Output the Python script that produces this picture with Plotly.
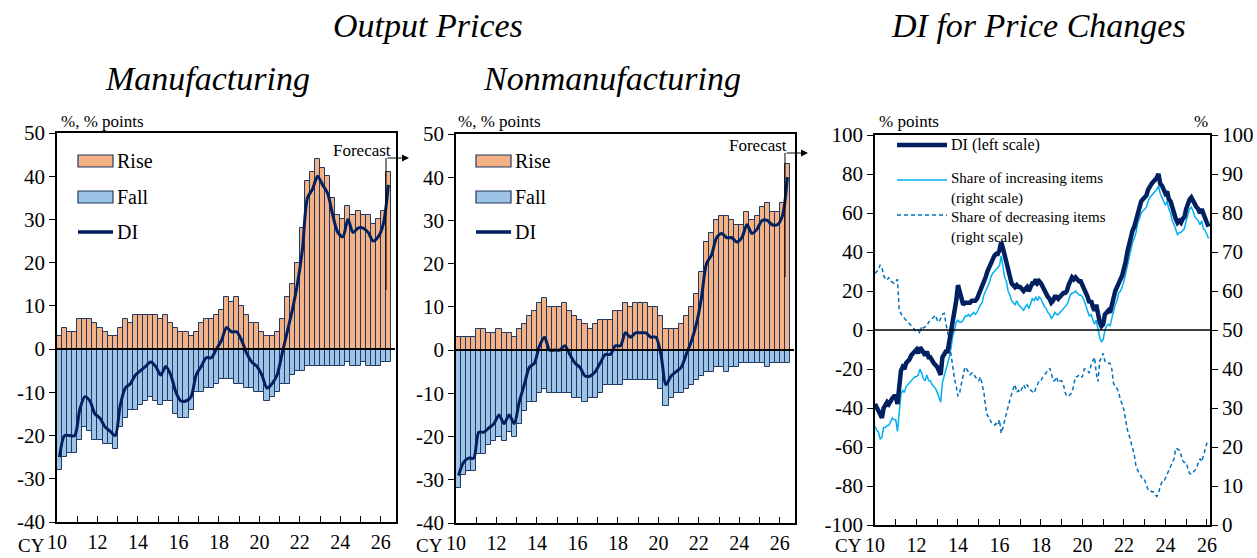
import plotly.graph_objects as go

# ---------------- data ----------------
quarter_start = 2010  # first bar = CY2010 Q1, quarterly bars
mfg_rise = [3, 5, 4, 4, 7, 7, 7, 6, 5, 4,
            3, 3, 5, 7, 6, 8, 8, 8, 8, 8,
            7, 8, 6, 5, 4, 4, 3, 4, 6, 7,
            7, 8, 9, 12, 11, 12, 10, 8, 6, 6,
            4, 3, 3, 4, 7, 12, 15, 20, 28, 39,
            41, 44, 42, 40, 35, 31, 30, 33, 31, 32,
            31, 31, 29, 30, 32, 41]
mfg_fall = [-28, -25, -24, -24, -21, -18, -19, -21, -21, -22,
            -22, -23, -18, -16, -14, -14, -13, -12, -11, -12,
            -13, -12, -12, -15, -16, -16, -14, -10, -10, -9,
            -9, -8, -7, -7, -7, -8, -8, -9, -9, -10,
            -10, -12, -11, -10, -8, -8, -6, -5, -5, -4,
            -4, -4, -4, -4, -4, -4, -4, -3, -4, -4,
            -3, -4, -4, -4, -3, -3]
mfg_di = [-25, -20, -20, -20, -14, -11, -12, -15, -16, -18,
          -19, -20, -13, -9, -8, -6, -5, -4, -3, -4,
          -6, -4, -6, -10, -12, -12, -11, -6, -4, -2,
          -2, 0, 2, 5, 4, 4, 2, -1, -3, -4,
          -6, -9, -8, -6, -1, 4, 9, 15, 23, 35,
          37, 40, 38, 36, 31, 27, 26, 30, 27, 28,
          28, 27, 25, 26, 29, 38]

non_rise = [3, 3, 3, 3, 5, 5, 4, 4, 5, 4,
            4, 3, 5, 6, 8, 9, 11, 12, 10, 10,
            10, 11, 9, 8, 7, 6, 5, 6, 7, 7,
            7, 9, 9, 11, 10, 11, 11, 11, 10, 10,
            8, 5, 5, 5, 6, 8, 10, 13, 18, 25,
            27, 30, 31, 31, 30, 29, 29, 32, 30, 31,
            33, 34, 32, 32, 34, 43]
non_fall = [-32, -29, -28, -28, -24, -24, -22, -21, -20, -21,
            -19, -20, -17, -14, -12, -12, -10, -9, -10, -10,
            -10, -10, -10, -11, -11, -12, -11, -11, -10, -8,
            -8, -8, -8, -7, -7, -7, -7, -7, -7, -7,
            -9, -13, -11, -10, -10, -9, -8, -7, -6, -5,
            -5, -4, -4, -5, -4, -4, -3, -3, -3, -3,
            -3, -4, -3, -3, -3, -3]
non_di = [-29, -26, -25, -25, -19, -19, -18, -17, -15, -17,
          -15, -17, -12, -8, -4, -3, 1, 3, 0, 0,
          0, 1, -1, -3, -4, -6, -6, -5, -3, -1,
          -1, 1, 1, 4, 3, 4, 4, 4, 3, 3,
          -1, -8, -6, -5, -4, -1, 2, 6, 12, 20,
          22, 26, 27, 26, 26, 25, 26, 29, 27, 28,
          30, 30, 29, 29, 31, 40]

# monthly series, Jan 2010 onwards
month_start = 2010
di_month = [-38, -40, -41, -44, -45, -40, -38, -37, -38, -36, -35, -34,
            -34, -38, -26, -21, -19, -20, -17, -16, -15, -13, -12, -11,
            -10, -12, -9, -10, -12, -13, -11, -14, -14, -16, -17, -18,
            -19, -21, -23, -14, -12, -11, -11, -6, -1, 3, 8, 15,
            23, 20, 15, 13, 14, 14, 14, 14, 15, 15, 15, 16,
            18, 20, 22, 25, 27, 30, 32, 34, 37, 38, 39, 39,
            41, 45, 42, 38, 35, 32, 28, 24, 23, 22, 23, 22,
            22, 21, 20, 21, 22, 20, 22, 24, 24, 26, 24, 25,
            24, 22, 20, 19, 17, 16, 14, 15, 17, 17, 16, 17,
            18, 19, 19, 20, 23, 26, 27, 26, 27, 26, 25, 25,
            23, 22, 19, 17, 14, 15, 12, 10, 13, 8, 4, 2,
            3, 8, 9, 10, 9, 13, 17, 20, 22, 25, 26, 28,
            31, 35, 40, 44, 47, 51, 53, 56, 61, 63, 66, 67,
            68, 69, 72, 74, 75, 76, 77, 78, 80, 75, 74, 72,
            70, 71, 67, 66, 62, 60, 57, 55, 56, 55, 57, 58,
            62, 65, 67, 68, 66, 64, 63, 62, 60, 62, 59, 58,
            55, 53]
inc_month = [25.3, 24.3, 23.8, 22, 22.5, 25, 25, 25.5, 25.5, 26.5, 27.5, 27,
             27, 24, 29, 33.5, 34.5, 34, 35.5, 36, 36.5, 37, 37.5, 38,
             38, 38.5, 40, 39, 37.5, 37, 38.5, 37, 37, 36, 35.5, 35,
             34, 32.5, 31.5, 36.5, 38, 40, 41, 43, 45.5, 48.5, 50, 52,
             52.5, 52, 52, 52.5, 53.5, 53.5, 54, 53.5, 54, 54.5, 54, 54.5,
             55.5, 56.5, 57, 59, 60, 61, 62, 63.5, 64.5, 65, 65.5, 66,
             66.5, 69, 66, 63.5, 62.5, 60, 59, 57.5, 57, 56.5, 57.5, 56.5,
             56, 55.5, 55, 56, 56.5, 55.5, 57, 58, 57.5, 58.5, 57.5, 58.5,
             58, 57, 56, 55.5, 54.5, 54, 53, 53.5, 54.5, 54, 54, 54.5,
             55, 55.5, 56, 56.5, 57.5, 59, 59.5, 59.5, 60, 59.5, 59, 59,
             58.5, 57.5, 56, 55, 53.5, 54, 52.5, 51.5, 52.5, 50, 48, 47,
             47.5, 50, 51, 51.5, 51, 53, 55, 56.5, 57.5, 59.5, 60, 61,
             62.5, 64.5, 67, 69, 70.5, 72.5, 73.5, 75, 77.5, 78.5, 80, 80.5,
             81, 81.5, 83, 84, 84.5, 85, 85.5, 86, 87, 85, 84, 83,
             82, 83, 81, 80, 78, 77, 75.5, 74.5, 75, 75, 75.5, 76,
             78, 79.5, 81, 81.5, 80.5, 79, 78.5, 78, 77, 78, 76, 75.5,
             74.5, 73.5]
dec_month = [64.5, 65, 65.5, 66.7, 66, 64, 63, 62.8, 63.5, 62.6, 62.4, 62,
             62.5, 63, 55, 54, 53.4, 53, 52.5, 52, 51.7, 51, 50.5, 50,
             49.6, 50, 49, 51, 50.5, 50.8, 51, 52, 52.5, 53, 53.5, 53.8,
             52.5, 52, 53, 54, 54.3, 52, 50, 47, 43.6, 40, 37.5, 35.5,
             33, 34, 36.3, 38, 40.5, 40, 39.3, 38.5, 39, 39, 38, 37.5,
             37, 38, 36, 34, 30.3, 28, 27.8, 26.5, 26, 25.6, 26, 25.5,
             27, 23.5, 25, 27, 28.5, 30.3, 32, 33.8, 35, 36, 34, 34.5,
             34, 35, 36, 35, 36, 35, 34.6, 34, 33.8, 35, 36, 37,
             37, 38, 38.5, 39, 39.5, 40.2, 39, 37, 37, 38, 36.5, 37,
             37, 36, 34, 33, 33, 33.5, 34, 36, 38, 38, 38.5, 38,
             38, 40, 40, 39.5, 39, 41, 42, 43, 39, 36.8, 42, 43,
             44, 42, 41.5, 41.5, 41.5, 40, 36.3, 35.5, 35, 34, 32, 31,
             29.5, 27, 24.4, 23, 21.5, 20, 18, 15, 14, 13, 12.5, 11.5,
             11.5, 10, 9, 9, 8.5, 8.5, 8, 7.3, 8, 10, 11, 11,
             12, 13, 14, 15, 16.2, 17, 19.7, 19.5, 19.2, 18, 16.5, 16,
             16, 14.5, 13.2, 13, 13.5, 14, 14.5, 16, 17, 16.2, 18, 19.5,
             21, 21.5]

year_ticks = list(range(10, 27))
year_labels = [str(y) if y % 2 == 0 else "" for y in year_ticks]
bar_ticks = list(range(-40, 51, 10))
di_ticks = list(range(-100, 101, 20))
share_ticks = list(range(0, 101, 10))

# ---------------- positions ----------------
qx = [quarter_start - 2000 + i / 4 + 0.125 for i in range(len(mfg_rise))]
mx = [month_start - 2000 + i / 12 for i in range(len(di_month))]

W, H = 1257, 558
SERIF = "Liberation Serif"
RISE_C = "#f4b183"
FALL_C = "#9dc3e6"
EDGE_C = "#1f3864"
NAVY = "#002060"
LIGHT = "#00b0f0"
MID = "#0070c0"


def fx(p):
    return p / W


def fy(p):
    return 1 - p / H


def lab(v):
    return str(v).replace("\u2212", "-")


fig = go.Figure()

for (rise, fall, di, xa, ya) in [(mfg_rise, mfg_fall, mfg_di, "x", "y"),
                                 (non_rise, non_fall, non_di, "x2", "y2")]:
    fig.add_trace(go.Bar(x=qx, y=rise, width=0.25, name="Rise", xaxis=xa, yaxis=ya,
                         marker=dict(color=RISE_C, line=dict(color=EDGE_C, width=1))))
    fig.add_trace(go.Bar(x=qx, y=fall, width=0.25, name="Fall", xaxis=xa, yaxis=ya,
                         marker=dict(color=FALL_C, line=dict(color=EDGE_C, width=1))))
    fig.add_trace(go.Scatter(x=qx, y=di, mode="lines", name="DI", xaxis=xa, yaxis=ya,
                             line=dict(color=NAVY, width=3, shape="spline", smoothing=0.8)))

fig.add_trace(go.Scatter(x=mx, y=inc_month, mode="lines",
                         name="Share of increasing items (right scale)",
                         xaxis="x3", yaxis="y3", line=dict(color=LIGHT, width=1.5)))
fig.add_trace(go.Scatter(x=mx, y=dec_month, mode="lines",
                         name="Share of decreasing items (right scale)",
                         xaxis="x3", yaxis="y3", line=dict(color=MID, width=1.5, dash="4px,3px")))
fig.add_trace(go.Scatter(x=mx, y=di_month, mode="lines", name="DI (left scale)",
                         xaxis="x3", yaxis="y4", line=dict(color=NAVY, width=4.5)))

tickfont = dict(family=SERIF, size=21, color="black")
xtickfont = dict(family=SERIF, size=20, color="black")
common_x = dict(tickvals=year_ticks, ticktext=year_labels, ticks="inside", ticklen=6,
                tickcolor="black", showline=True, mirror=True, linecolor="black", linewidth=1.5,
                showgrid=False, zeroline=False, tickfont=xtickfont, ticklabelstandoff=1)
common_y = dict(ticks="outside", ticklen=6, tickcolor="black", showline=True, mirror=True,
                linecolor="black", linewidth=1.5, showgrid=False, zeroline=False, tickfont=tickfont)

fig.update_layout(
    width=W, height=H, autosize=False,
    margin=dict(l=0, r=0, t=0, b=0, autoexpand=False),
    paper_bgcolor="white", plot_bgcolor="white",
    barmode="relative", bargap=0, showlegend=False,
    xaxis=dict(domain=[fx(57), fx(396)], range=[10, 26.75], anchor="y", **common_x),
    yaxis=dict(domain=[fy(522), fy(133)], range=[-40, 50], tickvals=bar_ticks,
               ticktext=[lab(v) for v in bar_ticks], anchor="x", **common_y),
    xaxis2=dict(domain=[fx(456), fx(795)], range=[10, 26.75], anchor="y2", **common_x),
    yaxis2=dict(domain=[fy(523), fy(134)], range=[-40, 50], tickvals=bar_ticks,
                ticktext=[lab(v) for v in bar_ticks], anchor="x2", **common_y),
    xaxis3=dict(domain=[fx(875), fx(1210)], range=[10, 26.15], anchor="y3", **common_x),
    yaxis3=dict(domain=[fy(525), fy(135)], range=[0, 100], tickvals=share_ticks,
                ticktext=[lab(v) for v in share_ticks], anchor="x3", side="right", **common_y),
    yaxis4=dict(range=[-100, 100], tickvals=di_ticks, ticktext=[lab(v) for v in di_ticks],
                anchor="x3", overlaying="y3", side="left", **common_y),
)

# zero lines drawn over the bars
fig.add_shape(type="line", xref="x", yref="y", x0=10, x1=26.7, y0=0, y1=0,
              line=dict(color="black", width=2))
fig.add_shape(type="line", xref="x2", yref="y2", x0=10, x1=26.7, y0=0, y1=0,
              line=dict(color="black", width=2))
fig.add_shape(type="line", xref="x3", yref="y4", x0=10, x1=26.15, y0=0, y1=0,
              line=dict(color="black", width=1.3))

# forecast markers
for (vx, top, bot, tip, txt_right, txt_y) in [(386, 158, 290, 409, 393, 150),
                                              (785, 153, 277, 808, 789, 145)]:
    fig.add_shape(type="line", xref="paper", yref="paper", x0=fx(vx), x1=fx(vx),
                  y0=fy(top), y1=fy(bot), line=dict(color="black", width=1))
    fig.add_annotation(xref="paper", yref="paper", x=fx(tip), y=fy(top), ax=-(tip - vx), ay=0,
                       text="", showarrow=True, arrowhead=2, arrowsize=1.4, arrowwidth=1,
                       arrowcolor="black")
    fig.add_annotation(xref="paper", yref="paper", x=fx(txt_right), y=fy(txt_y),
                       xanchor="right", yanchor="middle", text="Forecast", showarrow=False,
                       font=dict(family=SERIF, size=17, color="black"))

# legends for the bar panels (drawn as shapes + text)
leg_font = dict(family=SERIF, size=20, color="black")
for x0 in [78, 476]:
    for (yc, fill, txt) in [(161, RISE_C, "Rise"), (197, FALL_C, "Fall")]:
        fig.add_shape(type="rect", xref="paper", yref="paper", x0=fx(x0), x1=fx(x0 + 35),
                      y0=fy(yc + 6), y1=fy(yc - 6), fillcolor=fill,
                      line=dict(color=EDGE_C, width=1.2))
        fig.add_annotation(xref="paper", yref="paper", x=fx(x0 + 37), y=fy(yc), xanchor="left",
                           yanchor="middle", text=txt, showarrow=False, font=leg_font)
    fig.add_shape(type="line", xref="paper", yref="paper", x0=fx(x0), x1=fx(x0 + 35),
                  y0=fy(232), y1=fy(232), line=dict(color=NAVY, width=3.5))
    fig.add_annotation(xref="paper", yref="paper", x=fx(x0 + 37), y=fy(232), xanchor="left",
                       yanchor="middle", text="DI", showarrow=False, font=leg_font)

# legend for the DI panel
leg3_font = dict(family=SERIF, size=15, color="black")
for (yl, col, wid, dash, ytxt, txt, fs) in [
        (145, NAVY, 4.5, "solid", 145, "DI (left scale)", 16),
        (180, LIGHT, 1.5, "solid", 189, "Share of increasing items<br>(right scale)", 15),
        (215, MID, 1.5, "4px,3px", 227, "Share of decreasing items<br>(right scale)", 15)]:
    fig.add_shape(type="line", xref="paper", yref="paper", x0=fx(897), x1=fx(947),
                  y0=fy(yl), y1=fy(yl), line=dict(color=col, width=wid, dash=dash))
    fig.add_annotation(xref="paper", yref="paper", x=fx(949), y=fy(ytxt), xanchor="left",
                       yanchor="middle", align="left", text=txt, showarrow=False,
                       font=dict(family=SERIF, size=fs, color="black"))

# titles
title_font = dict(family=SERIF, size=34, color="black")
for (cx, cy, t) in [(428, 25, "Output Prices"), (207, 79, "Manufacturing"),
                    (612, 79, "Nonmanufacturing"), (1038, 25, "DI for Price Changes")]:
    fig.add_annotation(xref="paper", yref="paper", x=fx(cx), y=fy(cy), xanchor="center",
                       yanchor="middle", text="<i>" + t + "</i>", showarrow=False, font=title_font)

unit_font = dict(family=SERIF, size=17, color="black")
for (x0, y0, t, anc) in [(59, 121, "%, % points", "left"), (456, 122, "%, % points", "left"),
                         (877, 121, "% points", "left"), (1210, 121, "%", "right")]:
    fig.add_annotation(xref="paper", yref="paper", x=fx(x0), y=fy(y0), xanchor=anc,
                       yanchor="middle", text=t, showarrow=False, font=unit_font)

for x0 in [47, 445, 864]:
    fig.add_annotation(xref="paper", yref="paper", x=fx(x0), y=fy(545), xanchor="right",
                       yanchor="middle", text="CY", showarrow=False,
                       font=dict(family=SERIF, size=19, color="black"))

fig.write_html("out.html", config={"displayModeBar": False},
               post_script="document.body.style.margin='0px';"
                           "document.body.style.overflow='hidden';")
